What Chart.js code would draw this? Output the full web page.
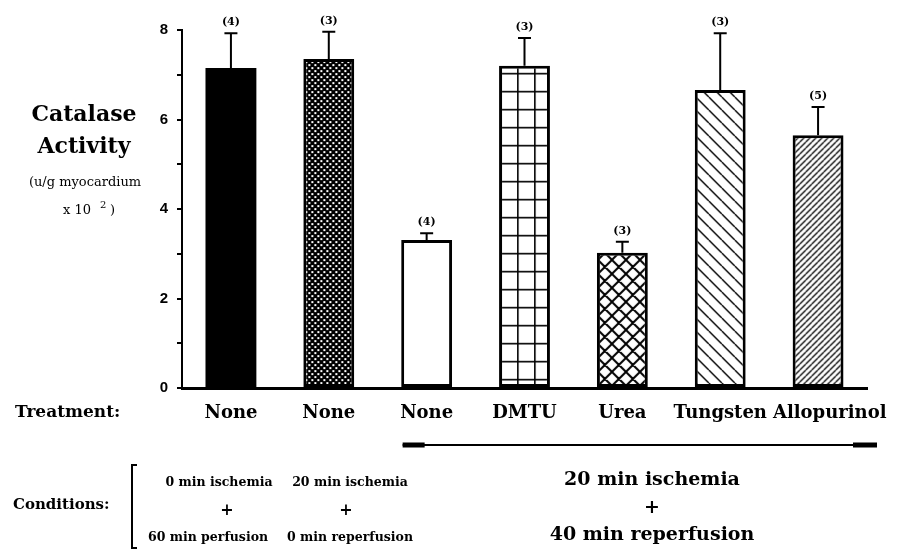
<!DOCTYPE html>
<html>
<head>
<meta charset="utf-8">
<script src="https://cdn.jsdelivr.net/npm/chart.js@4"></script>
<style>
  html, body { margin: 0; padding: 0; background: #fff; }
  #wrap { width: 898px; height: 550px; position: relative; }
</style>
</head>
<body>
<div id="wrap"><canvas id="c" width="898" height="550"></canvas></div>
<script>
// ---- data ----
const treatments = ["None", "None", "None", "DMTU", "Urea", "Tungsten", "Allopurinol"];
const catalase = [7.15, 7.35, 3.31, 7.20, 3.02, 6.66, 5.65];
const errors = [0.78, 0.61, 0.15, 0.62, 0.25, 1.27, 0.63];
const sampleSizes = [4, 3, 4, 3, 3, 3, 5];
const yTicks = [0, 2, 4, 6, 8];

// ---- patterns ----
function tile(w, h, draw, bg) {
  const c = document.createElement('canvas');
  c.width = w; c.height = h;
  const g = c.getContext('2d');
  g.fillStyle = bg || '#fff';
  g.fillRect(0, 0, w, h);
  g.fillStyle = '#000';
  g.strokeStyle = '#000';
  draw(g, w, h);
  return g.createPattern(c, 'repeat');
}
const pSolid = '#000';
const pChecker = tile(6, 6, (g) => {
  g.fillStyle = '#fff';
  g.fillRect(1, 1, 2, 2);
  g.fillRect(4, 4, 2, 2);
}, '#000');
const pOpen = '#fff';
const pGrid = tile(17, 18, (g, w, h) => {
  g.fillRect(0, 0, 1.6, h);
  g.fillRect(0, 0, w, 1.6);
});
function diag(s, lw, back, fwd) {
  return tile(s, s, (g) => {
    g.lineWidth = lw;
    g.beginPath();
    for (let k = -1; k <= 2; k++) {
      if (back) { g.moveTo(0, k * s); g.lineTo(s, s + k * s); }
      if (fwd) { g.moveTo(0, k * s); g.lineTo(s, k * s - s); }
    }
    g.stroke();
  });
}
const pCross = diag(14, 2, true, true);
const pBack = diag(13, 1.4, true, false);
const pFwd = diag(6, 1.3, false, true);
const fills = [pSolid, pChecker, pOpen, pGrid, pCross, pBack, pFwd];

const labelFont = 'bold 18px "DejaVu Serif"';

// ---- annotations plugin ----
const annot = {
  id: 'annot',
  beforeDatasetsDraw(chart) {
    // anchor each fill pattern to its own bar
    const meta = chart.getDatasetMeta(0);
    meta.data.forEach((bar, i) => {
      const f = fills[i];
      if (f && typeof f === 'object' && f.setTransform) {
        const left = bar.x - bar.width / 2;
        f.setTransform(new DOMMatrix().translate(left + 1, bar.y + 7));
      }
    });
  },
  afterDatasetsDraw(chart) {
    const ctx = chart.ctx;
    const meta = chart.getDatasetMeta(0);
    const ys = chart.scales.y;
    ctx.save();
    ctx.strokeStyle = '#000';
    ctx.fillStyle = '#000';
    ctx.lineWidth = 2;
    meta.data.forEach((bar, i) => {
      const x = bar.x;
      const yTop = ys.getPixelForValue(catalase[i]);
      const yErr = ys.getPixelForValue(catalase[i] + errors[i]);
      ctx.beginPath();
      ctx.moveTo(x, yTop);
      ctx.lineTo(x, yErr);
      ctx.moveTo(x - 6.5, yErr);
      ctx.lineTo(x + 6.5, yErr);
      ctx.stroke();
      ctx.font = 'bold 11px "DejaVu Serif"';
      ctx.textAlign = 'center';
      ctx.textBaseline = 'middle';
      ctx.fillText('(' + sampleSizes[i] + ')', x, yErr - 11);
    });
    ctx.restore();
  },
  afterDraw(chart) {
    const ctx = chart.ctx;
    const xs = chart.scales.x;
    const area = chart.chartArea;
    ctx.save();
    ctx.fillStyle = '#000';
    ctx.strokeStyle = '#000';
    ctx.textBaseline = 'middle';
    ctx.textAlign = 'center';

    // category labels, centred under their bars, nudged right only if they would collide
    ctx.font = labelFont;
    let prevRight = -Infinity;
    treatments.forEach((t, i) => {
      const w = ctx.measureText(t).width;
      const cx = Math.max(xs.getPixelForValue(i), prevRight + 6 + w / 2);
      ctx.fillText(t, cx, area.bottom + 25);
      prevRight = cx + w / 2;
    });

    // Y axis title
    ctx.font = 'bold 22px "DejaVu Serif"';
    ctx.fillText('Catalase', 84, 115);
    ctx.fillText('Activity', 84, 147);
    ctx.font = '13px "DejaVu Serif"';
    ctx.fillText('(u/g myocardium', 85, 183);
    ctx.textAlign = 'left';
    ctx.fillText('x 10', 63, 211);
    ctx.font = '10px "DejaVu Serif"';
    ctx.fillText('2', 100, 205);
    ctx.font = '13px "DejaVu Serif"';
    ctx.fillText(')', 110, 211);
    // Treatment label
    ctx.font = 'bold 17px "DejaVu Serif"';
    ctx.fillText('Treatment:', 15, 413);
    // line under groups 3..7
    const x0 = xs.getPixelForValue(2) - 24;
    const x1 = area.right + 10;
    const yl = 445;
    ctx.lineWidth = 2;
    ctx.beginPath(); ctx.moveTo(x0, yl); ctx.lineTo(x1, yl); ctx.stroke();
    ctx.fillRect(x0, yl - 2.5, 22, 5);
    ctx.fillRect(x1 - 24, yl - 2.5, 24, 5);
    // Conditions
    ctx.font = 'bold 15px "DejaVu Serif"';
    ctx.textAlign = 'left';
    ctx.fillText('Conditions:', 13, 505);
    // left bracket
    ctx.lineWidth = 2;
    ctx.beginPath();
    ctx.moveTo(137, 465); ctx.lineTo(132, 465); ctx.lineTo(132, 548); ctx.lineTo(137, 548);
    ctx.stroke();
    ctx.textAlign = 'center';
    ctx.font = 'bold 12.5px "DejaVu Serif"';
    ctx.fillText('0 min ischemia', 219, 483);
    ctx.fillText('20 min ischemia', 350, 483);
    ctx.fillText('60 min perfusion', 208, 538);
    ctx.fillText('0 min reperfusion', 350, 538);
    ctx.font = 'bold 16px "DejaVu Serif"';
    ctx.fillText('+', 227, 511);
    ctx.fillText('+', 346, 511);
    // right conditions
    ctx.font = 'bold 19px "DejaVu Serif"';
    ctx.fillText('20 min ischemia', 652, 480);
    ctx.fillText('+', 652, 508);
    ctx.fillText('40 min reperfusion', 652, 535);
    ctx.restore();
  }
};

new Chart(document.getElementById('c'), {
  type: 'bar',
  data: {
    labels: treatments,
    datasets: [{
      data: catalase,
      backgroundColor: fills,
      borderColor: '#000',
      borderWidth: fills.map(f => f === '#000' ? 0 : 3),
      borderSkipped: false,
      inflateAmount: 0,
      categoryPercentage: 1,
      barPercentage: 0.52
    }]
  },
  options: {
    responsive: false,
    animation: false,
    events: [],
    layout: { padding: { top: 30, right: 31, left: 0, bottom: 0 } },
    plugins: { legend: { display: false }, tooltip: { enabled: false } },
    scales: {
      x: {
        grid: { display: false, drawTicks: false },
        border: { display: true, color: '#000', width: 3 },
        ticks: { display: false },
        afterFit(s) { s.height = 162; s.paddingLeft = 0; s.paddingRight = 0; }
      },
      y: {
        min: 0, max: 8,
        grid: { drawOnChartArea: false, drawTicks: true, tickLength: 5, color: '#000', lineWidth: 2 },
        border: { display: true, color: '#000', width: 2 },
        ticks: {
          stepSize: 1,
          color: '#000',
          padding: 9,
          font: { family: '"Liberation Sans"', weight: 'bold', size: 15 },
          callback: (v) => yTicks.includes(v) ? String(v) : ''
        },
        afterFit(s) { s.width = 182; s.paddingTop = 0; s.paddingBottom = 0; }
      }
    }
  },
  plugins: [annot]
});
</script>
</body>
</html>
